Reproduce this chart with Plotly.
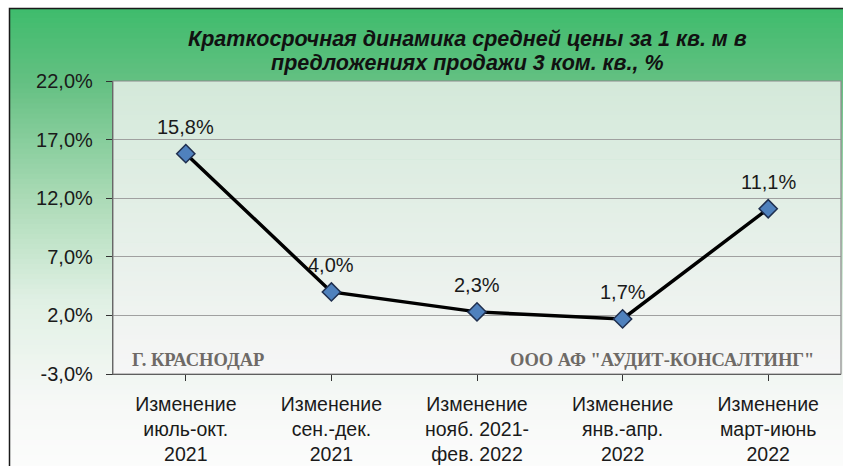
import plotly.graph_objects as go

categories = ["Изменение<br>июль-окт.<br>2021", "Изменение<br>сен.-дек.<br>2021",
              "Изменение<br>нояб. 2021-<br>фев. 2022", "Изменение<br>янв.-апр.<br>2022",
              "Изменение<br>март-июнь<br>2022"]
values = [15.8, 4.0, 2.3, 1.7, 11.1]
value_labels = ["15,8%", "4,0%", "2,3%", "1,7%", "11,1%"]
y_ticks = [-3, 2, 7, 12, 17, 22]
y_tick_labels = ["-3,0%", "2,0%", "7,0%", "12,0%", "17,0%", "22,0%"]
title_lines = ["Краткосрочная динамика средней цены за 1 кв. м в",
               "предложениях продажи 3 ком. кв., %"]
left_note = "Г. КРАСНОДАР"
right_note = "ООО АФ \"АУДИТ-КОНСАЛТИНГ\""

W, H = 843, 466
ML, MR, MT, MB = 113, 2, 81, 92
PW, PH = W - ML - MR, H - MT - MB


def px(x):  # page pixel -> paper x
    return (x - ML) / PW


def py(y):  # page pixel -> paper y
    return (H - MB - y) / PH


def lerp(c1, c2, t):
    t = max(0.0, min(1.0, t))
    return "rgb(%d,%d,%d)" % tuple(round(a + (b - a) * t) for a, b in zip(c1, c2))


stops = [(8, (62, 188, 108)), (82, (100, 192, 130)), (200, (172, 219, 183)),
         (300, (224, 240, 228)), (400, (246, 248, 246)), (470, (252, 252, 252))]


def grad(y):
    for (ya, ca), (yb, cb) in zip(stops, stops[1:]):
        if y <= yb:
            return lerp(ca, cb, (y - ya) / (yb - ya))
    return lerp(stops[-1][1], stops[-1][1], 0)


shapes = []
n = 92
for i in range(n):
    y0 = 8 + (470 - 8) * i / n
    y1 = 8 + (470 - 8) * (i + 1) / n
    shapes.append(dict(type="rect", xref="paper", yref="paper", layer="below",
                       x0=px(9), x1=px(850), y0=py(y1 + 1), y1=py(y0),
                       fillcolor=grad((y0 + y1) / 2), line=dict(width=0)))
p_top = (212, 233, 218)
p_bot = (246, 246, 246)
n2 = 60
for i in range(n2):
    y0 = MT + PH * i / n2
    y1 = MT + PH * (i + 1) / n2
    shapes.append(dict(type="rect", xref="paper", yref="paper", layer="below",
                       x0=0, x1=1, y0=py(y1 + 0.7), y1=py(y0),
                       fillcolor=lerp(p_top, p_bot, i / (n2 - 1)), line=dict(width=0)))
shapes.append(dict(type="rect", xref="paper", yref="paper", layer="above",
                   x0=0, x1=1, y0=0, y1=1, line=dict(color="#8a8a8a", width=1.2)))
shapes.append(dict(type="rect", xref="paper", yref="paper", layer="above",
                   x0=px(9.5), x1=px(870), y0=py(490), y1=py(8.5),
                   line=dict(color="#1a1a1a", width=1.5)))

fig = go.Figure()
fig.add_trace(go.Scatter(
    x=list(range(len(values))), y=values, mode="lines+markers",
    line=dict(color="#000000", width=3.5),
    marker=dict(symbol="diamond", size=14, color="#4f81bd",
                line=dict(color="#1f2f4f", width=1.5)),
    hoverinfo="skip", showlegend=False, cliponaxis=False))

annotations = []
for i, (v, lab) in enumerate(zip(values, value_labels)):
    annotations.append(dict(x=i, y=v, xref="x", yref="y", text=lab, showarrow=False,
                            yshift=27, font=dict(family="Liberation Sans, Arial", size=20, color="#1a1a1a")))
for j, line in enumerate(title_lines):
    annotations.append(dict(x=px(467), y=py(39 + 24 * j), xref="paper", yref="paper",
                            text="<b><i>" + line + "</i></b>", showarrow=False,
                            xanchor="center", yanchor="middle",
                            font=dict(family="Liberation Sans, Arial", size=21.5, color="#111111")))
annotations.append(dict(x=px(130), y=py(360), xref="paper", yref="paper", text="<b>" + left_note + "</b>",
                        showarrow=False, xanchor="left", yanchor="middle",
                        font=dict(family="Liberation Serif, Times New Roman", size=18.5, color="#6e6a66")))
annotations.append(dict(x=px(816), y=py(360), xref="paper", yref="paper", text="<b>" + right_note + "</b>",
                        showarrow=False, xanchor="right", yanchor="middle",
                        font=dict(family="Liberation Serif, Times New Roman", size=18.5, color="#6e6a66")))

fig.update_layout(
    width=W, height=H,
    margin=dict(l=ML, r=MR, t=MT, b=MB, autoexpand=False),
    paper_bgcolor="white", plot_bgcolor="rgba(0,0,0,0)",
    shapes=shapes, annotations=annotations,
    xaxis=dict(range=[-0.5, len(values) - 0.5], tickmode="array",
               tickvals=list(range(len(values))), ticktext=categories,
               tickson="boundaries", ticks="outside", ticklen=6, tickcolor="#333",
               ticklabelstandoff=6, automargin=False,
               showgrid=False, showline=True, linecolor="#333", linewidth=1.2,
               tickfont=dict(family="Liberation Sans, Arial", size=19.5, color="#1a1a1a"),
               zeroline=False, fixedrange=True),
    yaxis=dict(range=[-3, 22], tickmode="array", tickvals=y_ticks, ticktext=y_tick_labels,
               ticks="outside", ticklen=6, tickcolor="#333", ticklabelstandoff=9,
               automargin=False,
               showgrid=True, gridcolor="#a0a0a0", gridwidth=1,
               showline=True, linecolor="#333", linewidth=1.2,
               tickfont=dict(family="Liberation Sans, Arial", size=20, color="#1a1a1a"),
               zeroline=False, fixedrange=True),
)

fig.write_html("out.html", config={"displayModeBar": False, "staticPlot": True},
               post_script="document.body.style.margin='0';document.body.style.overflow='hidden';")
